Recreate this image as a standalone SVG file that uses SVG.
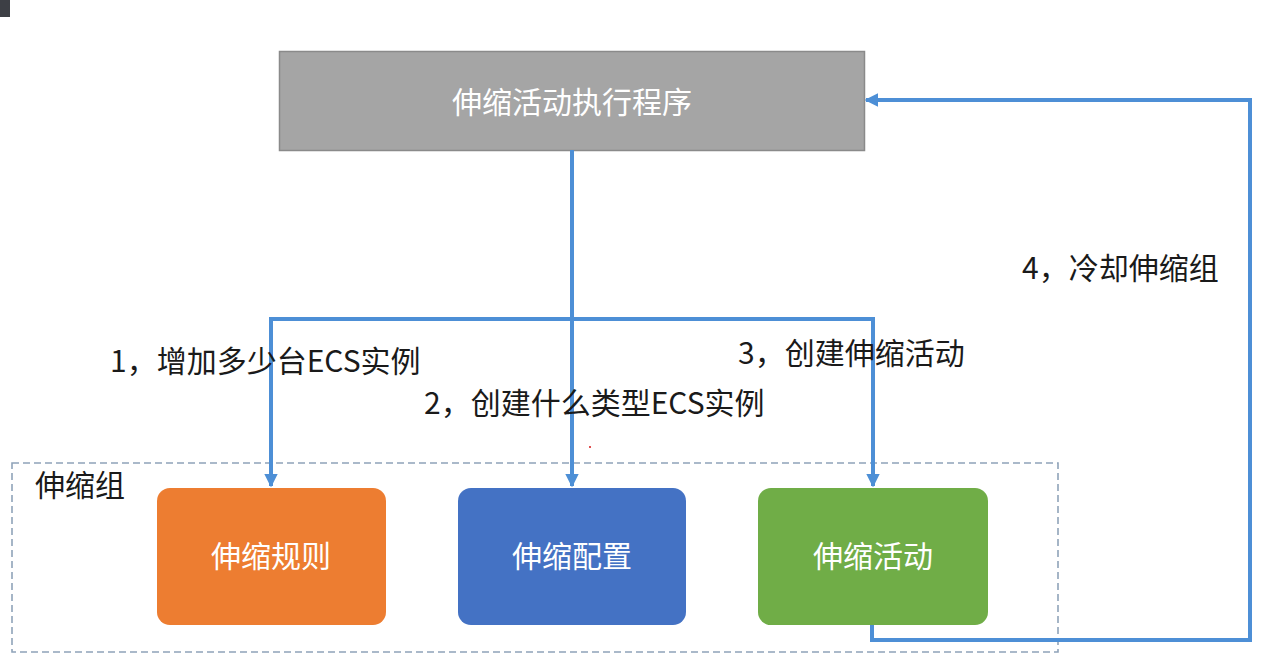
<svg xmlns="http://www.w3.org/2000/svg" width="1267" height="665" viewBox="0 0 1267 665">
<style>
.lbl{font-family:"Noto Sans CJK SC","Noto Sans",sans-serif;font-size:30px;fill:#1a1a1a}
.nt{font-family:"Noto Sans CJK SC","Noto Sans",sans-serif;font-size:30px;fill:#ffffff;text-anchor:middle}
.conn{fill:none;stroke:#4d8fd6;stroke-width:4}
</style>
<defs>
<marker id="ah" viewBox="0 0 10 10" refX="9" refY="5" markerWidth="3.4" markerHeight="3.4" orient="auto" markerUnits="strokeWidth">
<path d="M0,0 L10,5 L0,10 z" fill="#4d8fd6"/>
</marker>
</defs>
<rect width="1267" height="665" fill="#ffffff"/>
<rect x="0" y="0" width="10" height="17" fill="#3d3f45"/>
<g id="group">
<rect x="12" y="463" width="1046" height="189" fill="none" stroke="#8fa3b9" stroke-width="1.6" stroke-dasharray="7,4"/>
<text x="35" y="496" class="lbl">伸缩组</text>
</g>
<g id="executor">
<rect x="279.5" y="51.5" width="585" height="99" fill="#a5a5a5" stroke="#8a8a8a" stroke-width="1.5"/>
<text x="572" y="113" class="nt">伸缩活动执行程序</text>
</g>
<g id="rule">
<rect x="157" y="488" width="229" height="137" rx="13" fill="#ed7d31"/>
<text x="271" y="567" class="nt">伸缩规则</text>
</g>
<g id="config">
<rect x="458" y="488" width="228" height="137" rx="13" fill="#4472c4"/>
<text x="572" y="567" class="nt">伸缩配置</text>
</g>
<g id="activity">
<rect x="758" y="488" width="230" height="137" rx="13" fill="#70ad47"/>
<text x="873" y="567" class="nt">伸缩活动</text>
</g>
<g id="connectors">
<path class="conn" d="M572,150 V319"/>
<path class="conn" d="M271,319 H873"/>
<path class="conn" d="M271,317 V486" marker-end="url(#ah)"/>
<path class="conn" d="M572,319 V486" marker-end="url(#ah)"/>
<path class="conn" d="M873,317 V486" marker-end="url(#ah)"/>
<path class="conn" d="M872,625 V640 H1250 V100 H866" marker-end="url(#ah)"/>
</g>
<g id="labels">
<text x="110" y="372" class="lbl">1，增加多少台ECS实例</text>
<text x="424" y="414" class="lbl">2，创建什么类型ECS实例</text>
<text x="738" y="364" class="lbl">3，创建伸缩活动</text>
<text x="1022" y="279" class="lbl">4，冷却伸缩组</text>
</g>
<rect x="589" y="446" width="2" height="2" fill="#e05050"/>
</svg>
